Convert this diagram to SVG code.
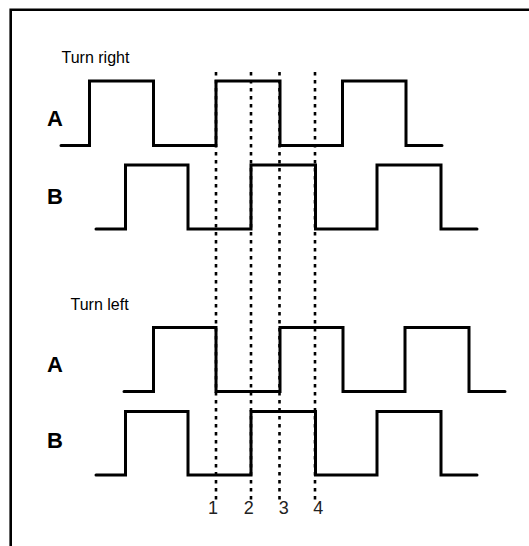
<svg xmlns="http://www.w3.org/2000/svg" width="529" height="546" viewBox="0 0 529 546">
<style>
.wave{fill:none;stroke:#000;stroke-width:3;stroke-linejoin:miter;stroke-linecap:round}
.dot{fill:none;stroke:#000;stroke-width:2.6;stroke-dasharray:3.5 4.5}
.lbl{font-family:"Liberation Sans",Arial,sans-serif;font-size:22px;font-weight:bold;fill:#000}
.ttl{font-family:"Liberation Sans",Arial,sans-serif;font-size:16px;fill:#000}
.num{font-family:"Liberation Sans",Arial,sans-serif;font-size:18px;fill:#222;text-anchor:middle}
</style>
<rect x="0" y="0" width="529" height="546" fill="#fff"/>
<path d="M10.7,546 V9.7 H529" fill="none" stroke="#000" stroke-width="2.6"/>
<g id="connectors">
<line class="dot" x1="216" y1="72" x2="216" y2="500"/>
<line class="dot" x1="251" y1="72" x2="251" y2="500"/>
<line class="dot" x1="279.5" y1="72" x2="279.5" y2="500"/>
<line class="dot" x1="315" y1="72" x2="315" y2="500"/>
</g>
<g id="title-right"><text class="ttl" x="61.5" y="63.3">Turn right</text></g>
<g id="title-left"><text class="ttl" x="70.5" y="310">Turn left</text></g>
<g id="right-A">
<text class="lbl" x="47" y="125.7">A</text>
<path class="wave" d="M61,145.5 H89.5 V81 H153.5 V145.5 H216 V81 H280 V145.5 H342.5 V81 H406 V145.5 H442"/>
</g>
<g id="right-B">
<text class="lbl" x="47" y="204">B</text>
<path class="wave" d="M96,229 H125.5 V165 H188 V229 H251 V165 H315.5 V229 H377 V165 H441 V229 H477"/>
</g>
<g id="left-A">
<text class="lbl" x="47" y="371.7">A</text>
<path class="wave" d="M124,391.5 H153.5 V327.5 H216 V391.5 H280 V327.5 H343 V391.5 H405 V327.5 H469 V391.5 H505"/>
</g>
<g id="left-B">
<text class="lbl" x="47" y="448.3">B</text>
<path class="wave" d="M96,475 H125.5 V411.5 H188 V475 H251 V411.5 H315.5 V475 H377 V411.5 H441 V475 H477"/>
</g>
<g id="numbers">
<text class="num" x="213" y="514">1</text>
<text class="num" x="248.8" y="514">2</text>
<text class="num" x="283.8" y="514">3</text>
<text class="num" x="318.3" y="514">4</text>
</g>
</svg>
